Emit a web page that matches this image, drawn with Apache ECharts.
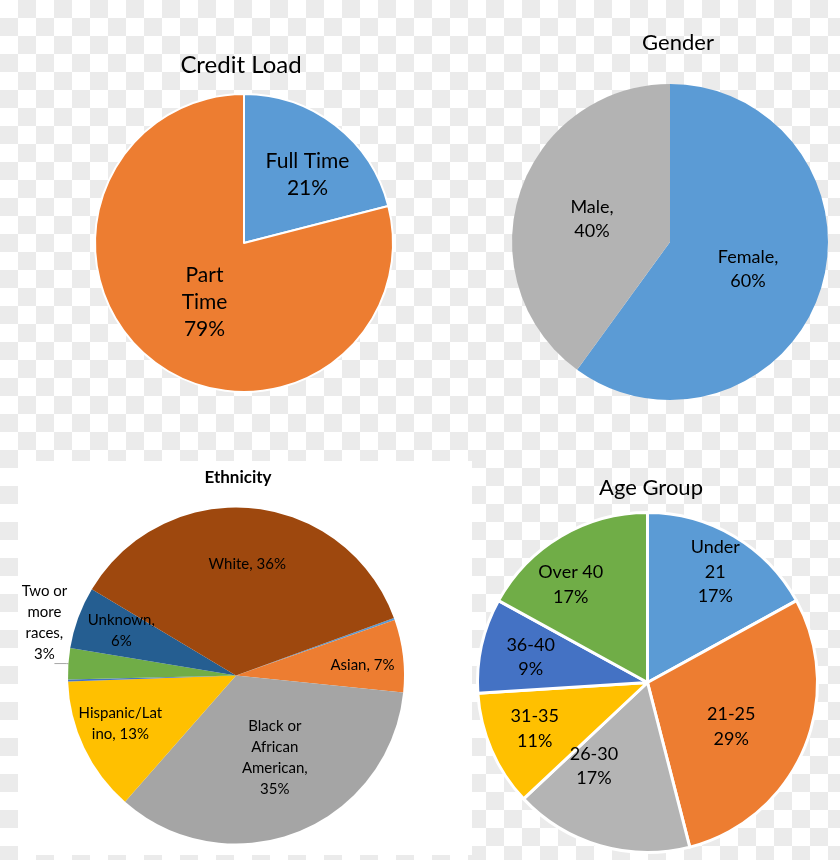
<!DOCTYPE html>
<html><head><meta charset="utf-8">
<script src="https://cdn.jsdelivr.net/npm/echarts@6/dist/echarts.min.js"></script>
<style>
html,body{margin:0;padding:0;width:840px;height:860px;overflow:hidden;
background: repeating-conic-gradient(#ebebeb 0% 25%, #ffffff 0% 50%) 0 0 / 36px 36px;}
#chart{width:840px;height:860px;}
</style></head><body><div id="chart"></div>
<script>
// ---- data ----
const creditNames = ['Full Time', 'Part Time'];
const creditValues = [21, 79];
const creditLabels = ['Full Time\n21%', 'Part\nTime\n79%'];

const genderNames = ['Female', 'Male'];
const genderValues = [60, 40];
const genderLabels = ['Female,\n60%', 'Male,\n40%'];

const ethnicNames = ['American Indian', 'Asian', 'Black or African American', 'Hispanic/Latino',
  'Pacific Islander', 'Two or more races', 'Unknown', 'White'];
const ethnicValues = [0.2, 7, 35, 13, 0.2, 3, 6, 36];
const ethnicLabels = ['', 'Asian, 7%', 'Black or\nAfrican\nAmerican,\n35%', 'Hispanic/Lat\nino, 13%',
  '', 'Two or\nmore\nraces,\n3%', 'Unknown,\n6%', 'White, 36%'];

const ageNames = ['Under 21', '21-25', '26-30', '31-35', '36-40', 'Over 40'];
const ageValues = [17, 29, 17, 11, 9, 17];
const ageLabels = ['Under\n21\n17%', '21-25\n29%', '26-30\n17%', '31-35\n11%', '36-40\n9%', 'Over 40\n17%'];

// ---- styles ----
const FONT = 'Lato, "Open Sans", sans-serif';
const creditColors = ['#5B9BD5', '#ED7D31'];
const genderColors = ['#5B9BD5', '#B3B3B3'];
const ethnicColors = ['#5B9BD5', '#ED7D31', '#A5A5A5', '#FFC000', '#4472C4', '#70AD47', '#255E91', '#9E480E'];
const ageColors = ['#5B9BD5', '#ED7D31', '#B4B4B4', '#FFC000', '#4472C4', '#70AD47'];

const creditShift = [[16, -7], [8, -2]];
const genderShift = [[0, 2], [0, 3]];
const ethnicShift = [[0, 0], [40, 0], [7, 1], [-37, 11], [0, 0], [-5, -41], [-33, -15], [3, -25]];
const ageShift = [[23, -35], [3, 9], [-29, -1], [-32, 11], [-31, -6], [-32, -22]];

function makePie(names, values, labels, colors, shift, center, radius, startAngle, fontSize, lineHeight, border) {
  return {
    type: 'pie',
    center: center,
    radius: [0, radius],
    startAngle: startAngle,
    clockwise: true,
    animation: false,
    silent: true,
    avoidLabelOverlap: false,
    itemStyle: { borderColor: '#ffffff', borderWidth: border },
    label: {
      show: true, position: 'inside',
      formatter: p => labels[p.dataIndex],
      color: '#000000', fontFamily: FONT, fontSize: fontSize, lineHeight: lineHeight,
      fontWeight: 'normal', align: 'center'
    },
    labelLine: { show: false },
    labelLayout: p => ({ dx: shift[p.dataIndex][0], dy: shift[p.dataIndex][1] }),
    data: names.map((n, i) => ({ name: n, value: values[i], itemStyle: { color: colors[i] } }))
  };
}

const ethnicSeries = makePie(ethnicNames, ethnicValues, ethnicLabels, ethnicColors, ethnicShift,
  [236, 675.5], 168, 20, 15, 21, 0);
ethnicSeries.data[5].label = { position: 'outside' };
ethnicSeries.data[5].labelLine = { show: true, length: 2, length2: 12, lineStyle: { color: '#A6A6A6', width: 1 } };
ethnicSeries.labelLayout = p => {
  const o = { dx: ethnicShift[p.dataIndex][0], dy: ethnicShift[p.dataIndex][1] };
  if (p.dataIndex === 5) o.align = 'center';
  return o;
};

const titleStyle = (size, weight) => ({ fontFamily: FONT, fontSize: size, fontWeight: weight, color: '#000000' });

const option = {
  backgroundColor: 'transparent',
  graphic: [{
    type: 'rect', shape: { x: 18, y: 461, width: 454, height: 394 },
    style: { fill: '#ffffff' }, silent: true, z: -10
  }],
  title: [
    { text: 'Credit Load', left: 241, top: 53, textAlign: 'center', padding: 0, textStyle: titleStyle(24, 'normal') },
    { text: 'Gender', left: 678, top: 32, textAlign: 'center', padding: 0, textStyle: titleStyle(22, 'normal') },
    { text: 'Ethnicity', left: 238, top: 469, textAlign: 'center', padding: 0, textStyle: titleStyle(17, 'bold') },
    { text: 'Age Group', left: 651, top: 477, textAlign: 'center', padding: 0, textStyle: titleStyle(22, 'normal') }
  ],
  series: [
    makePie(creditNames, creditValues, creditLabels, creditColors, creditShift, [244, 243], 149, 90, 21, 27, 2),
    makePie(genderNames, genderValues, genderLabels, genderColors, genderShift, [670, 242], 158, 90, 18, 24, 0),
    ethnicSeries,
    makePie(ageNames, ageValues, ageLabels, ageColors, ageShift, [647.5, 682.5], 170, 90, 18, 24.5, 3)
  ]
};

const chart = echarts.init(document.getElementById('chart'), null, { renderer: 'canvas' });
chart.setOption(option);
</script></body></html>
